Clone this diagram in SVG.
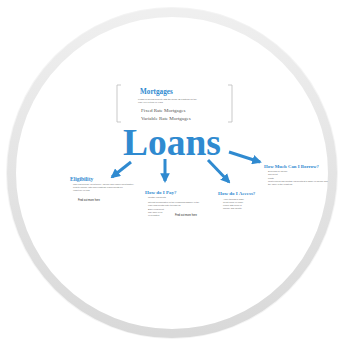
<svg xmlns="http://www.w3.org/2000/svg" width="339" height="342" viewBox="0 0 339 342">
<defs>
<linearGradient id="ring" x1="0" y1="0" x2="0" y2="1">
<stop offset="0" stop-color="#efefef"/>
<stop offset="1" stop-color="#d9d9d9"/>
</linearGradient>
<marker id="ah" viewBox="0 0 10 10" refX="8" refY="5" markerWidth="3.2" markerHeight="3.2" orient="auto" markerUnits="strokeWidth">
<path d="M0,0 L10,5 L0,10 z" fill="#2f8ad0"/>
</marker>
<style>
.h{font-family:"Liberation Serif",serif;font-weight:bold;fill:#2f8ad0}
.t{font-family:"Liberation Serif",serif;fill:#555}
.s{font-family:"Liberation Sans",sans-serif;fill:#666;font-size:2.2px}
.k{font-family:"Liberation Sans",sans-serif;fill:#222;font-size:2.6px}
.c{stroke:#2f8ad0;stroke-width:3;fill:none;marker-end:url(#ah)}
</style>
</defs>
<rect width="339" height="342" fill="#fff"/>
<circle cx="172" cy="173" r="164" fill="none" stroke="#f4f4f4" stroke-width="4"/>
<circle cx="172" cy="173" r="160.5" fill="#fff" stroke="url(#ring)" stroke-width="9"/>

<g id="mortgages">
<path d="M121,85 H117 V122 H121" fill="none" stroke="#bbb" stroke-width="0.8"/>
<path d="M228,85 H232 V122 H228" fill="none" stroke="#bbb" stroke-width="0.8"/>
<text class="h" x="140" y="94" font-size="7.2">Mortgages</text>
<text class="s" x="138" y="99.5">Loans for buying property with the house as collateral for the</text>
<text class="s" x="138" y="102.5">loan, over a term of years</text>
<text class="t" x="141" y="112" font-size="5">Fixed Rate Mortgages</text>
<text class="t" x="141" y="120" font-size="5">Variable Rate Mortgages</text>
</g>

<g id="loans">
<text class="h" x="123" y="155" font-size="37.5">Loans</text>
</g>

<g id="connectors">
<line class="c" x1="131" y1="162" x2="112" y2="177"/>
<line class="c" x1="165" y1="159" x2="165" y2="181"/>
<line class="c" x1="208" y1="160" x2="229" y2="182"/>
<line class="c" x1="229" y1="152" x2="260" y2="162"/>
</g>

<g id="eligibility">
<text class="h" x="70" y="181" font-size="5.5">Eligibility</text>
<text class="s" x="73" y="185">Who can borrow: credit score, income and employment history,</text>
<text class="s" x="73" y="188">debt-to-income ratio and collateral requirements for</text>
<text class="s" x="73" y="191">each type of loan</text>
<text class="k" x="78" y="201">Find out more here</text>
</g>

<g id="pay">
<text class="h" x="145" y="194" font-size="5">How do I Pay?</text>
<text class="s" x="148" y="198">Monthly payments</text>
<text class="s" x="148" y="203">Interest is calculated on the remaining balance of the</text>
<text class="s" x="148" y="206">loan each month until it is paid off</text>
<text class="s" x="148" y="210">Early repayment</text>
<text class="s" x="148" y="213">may have fees</text>
<text class="s" x="148" y="216">or penalties</text>
<text class="k" x="175" y="216">Find out more here</text>
</g>

<g id="access">
<text class="h" x="218" y="195" font-size="5">How do I Access?</text>
<text class="s" x="223" y="200">Apply through a bank,</text>
<text class="s" x="223" y="203">credit union or online</text>
<text class="s" x="223" y="206">lender with proof of</text>
<text class="s" x="223" y="209">income and identity</text>
</g>

<g id="borrow">
<text class="h" x="264" y="168" font-size="4.8">How Much Can I Borrow?</text>
<text class="s" x="268" y="172">Depends on income</text>
<text class="s" x="268" y="175">and credit</text>
<text class="s" x="268" y="179">Limits</text>
<text class="s" x="268" y="182">Most lenders cap monthly payments at a share of income and</text>
<text class="s" x="268" y="185">the value of the collateral</text>
</g>
</svg>
